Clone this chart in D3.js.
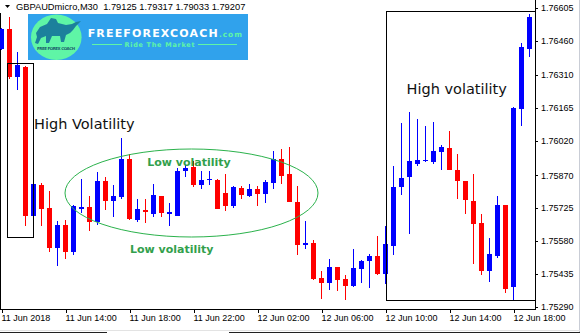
<!DOCTYPE html>
<html>
<head>
<meta charset="utf-8">
<script src="https://cdn.jsdelivr.net/npm/d3@7"></script>
<style>
  body { margin: 0; background: #fff; }
  svg { display: block; }
  .axis text { font-family: "Liberation Sans", Arial, sans-serif; font-size: 9px; fill: #000; }
  .axis line { stroke: #000; shape-rendering: crispEdges; }
</style>
</head>
<body>
<script>
// GBPAUDmicro M30 candles
const opens = [1.76423, 1.76513, 1.76300, 1.76347, 1.75692, 1.75827, 1.75725, 1.75551, 1.75651, 1.75533,
               1.75723, 1.75731, 1.75665, 1.75845, 1.75757, 1.75775, 1.75942, 1.75671, 1.75716, 1.75699,
               1.75778, 1.75700, 1.75692, 1.75889, 1.75907, 1.75827, 1.75850, 1.75850, 1.75791, 1.75735,
               1.75814, 1.75780, 1.75809, 1.75788, 1.75836, 1.75942, 1.75877, 1.75750, 1.75561, 1.75572,
               1.75416, 1.75397, 1.75464, 1.75413, 1.75383, 1.75459, 1.75494, 1.75513, 1.75436, 1.75560,
               1.75818, 1.75862, 1.75920, 1.75931, 1.75928, 1.75972, 1.75989, 1.75894, 1.75843, 1.75755,
               1.75659, 1.75450, 1.75516, 1.75737, 1.75379, 1.76162, 1.76426];
const highs = [1.76517, 1.76567, 1.76410, 1.76350, 1.75833, 1.75835, 1.75800, 1.75668, 1.75671, 1.75737,
               1.75854, 1.75778, 1.75884, 1.75860, 1.75827, 1.76033, 1.75963, 1.75765, 1.75765, 1.75831,
               1.75780, 1.75747, 1.75901, 1.75917, 1.75932, 1.75886, 1.75888, 1.75852, 1.75875, 1.75822,
               1.75824, 1.75831, 1.75822, 1.75849, 1.75976, 1.75984, 1.75992, 1.75821, 1.75667, 1.75583,
               1.75449, 1.75501, 1.75466, 1.75431, 1.75545, 1.75497, 1.75523, 1.75604, 1.75648, 1.75910,
               1.76101, 1.76149, 1.76116, 1.76087, 1.76104, 1.76003, 1.76064, 1.75963, 1.75845, 1.75875,
               1.75699, 1.75593, 1.75777, 1.75739, 1.76171, 1.76450, 1.76577];
const lows = [1.76420, 1.76294, 1.76244, 1.75645, 1.75690, 1.75648, 1.75531, 1.75472, 1.75503, 1.75518,
              1.75703, 1.75626, 1.75651, 1.75715, 1.75686, 1.75763, 1.75673, 1.75665, 1.75661, 1.75687,
              1.75688, 1.75646, 1.75690, 1.75861, 1.75816, 1.75811, 1.75827, 1.75721, 1.75713, 1.75727,
              1.75766, 1.75772, 1.75735, 1.75748, 1.75809, 1.75833, 1.75750, 1.75520, 1.75543, 1.75410,
              1.75327, 1.75365, 1.75362, 1.75322, 1.75378, 1.75397, 1.75374, 1.75432, 1.75391, 1.75520,
              1.75784, 1.75611, 1.75911, 1.75929, 1.75919, 1.75894, 1.75892, 1.75766, 1.75700, 1.75480,
              1.75431, 1.75399, 1.75506, 1.75352, 1.75320, 1.76087, 1.76391];
const closes = [1.76513, 1.76300, 1.76354, 1.75689, 1.75831, 1.75723, 1.75551, 1.75651, 1.75533, 1.75735,
                1.75731, 1.75665, 1.75845, 1.75757, 1.75778, 1.75942, 1.75675, 1.75721, 1.75708, 1.75782,
                1.75702, 1.75707, 1.75889, 1.75903, 1.75827, 1.75849, 1.75853, 1.75723, 1.75735, 1.75817,
                1.75783, 1.75809, 1.75788, 1.75840, 1.75941, 1.75868, 1.75752, 1.75564, 1.75572, 1.75413,
                1.75394, 1.75464, 1.75410, 1.75383, 1.75460, 1.75492, 1.75514, 1.75436, 1.75567, 1.75818,
                1.75857, 1.75933, 1.75938, 1.75938, 1.75976, 1.75995, 1.75894, 1.75843, 1.75762, 1.75656,
                1.75450, 1.75524, 1.75737, 1.75371, 1.76167, 1.76432, 1.76565];

const xTickIdx = [0, 8, 16, 24, 32, 40, 48, 56, 64];
const xLabels = ["11 Jun 2018", "11 Jun 14:00", "11 Jun 18:00", "11 Jun 22:00", "12 Jun 02:00",
                 "12 Jun 06:00", "12 Jun 10:00", "12 Jun 14:00", "12 Jun 18:00"];
const yTicks = [1.76605, 1.76460, 1.76310, 1.76165, 1.76020, 1.75870, 1.75725, 1.75580, 1.75435, 1.75290];

init();

function init() {
  let width = 582, height = 333;

  let svg = d3.select("body")
              .append("svg")
              .attr("width", width)
              .attr("height", height);

  let candles = opens.map((o, i) => ({i: i, o: o, h: highs[i], l: lows[i], c: closes[i]}));

  let x = d3.scaleLinear().domain([0, 66]).range([1.5, 529.5]);
  let y = d3.scaleLinear().domain([1.75290, 1.76605]).range([307, 8]);

  // window edges
  svg.append("line").attr("x1", 579.5).attr("x2", 579.5).attr("y1", 0).attr("y2", 333)
     .attr("stroke", "#c9cdd6");
  svg.append("line").attr("x1", 0).attr("x2", 580).attr("y1", 330.5).attr("y2", 330.5)
     .attr("stroke", "#e3e3e3");
  svg.append("line").attr("x1", 0).attr("x2", 107).attr("y1", 332.5).attr("y2", 332.5)
     .attr("stroke", "#222");
  svg.append("line").attr("x1", 229).attr("x2", 580).attr("y1", 332.5).attr("y2", 332.5)
     .attr("stroke", "#222");

  // frame
  let frame = svg.append("g").attr("stroke", "#000").attr("shape-rendering", "crispEdges");
  frame.append("line").attr("x1", 0.5).attr("x2", 0.5).attr("y1", 13).attr("y2", 309.5);
  frame.append("line").attr("x1", 0).attr("x2", 535.5).attr("y1", 309.5).attr("y2", 309.5);
  frame.append("line").attr("x1", 535.5).attr("x2", 535.5).attr("y1", 0).attr("y2", 309.5);

  // candles
  let g = svg.append("g").attr("shape-rendering", "crispEdges");
  let color = (d) => d.c >= d.o ? "#0000ff" : "#ff0000";

  g.selectAll(".wick")
   .data(candles)
   .enter()
   .append("line")
   .attr("class", "wick")
   .attr("x1", d => x(d.i))
   .attr("x2", d => x(d.i))
   .attr("y1", d => y(d.h))
   .attr("y2", d => y(d.l))
   .attr("stroke", color);

  g.selectAll(".body")
   .data(candles)
   .enter()
   .append("rect")
   .attr("class", "body")
   .attr("x", d => x(d.i) - 2.5)
   .attr("width", 5)
   .attr("y", d => y(Math.max(d.o, d.c)))
   .attr("height", d => Math.max(1, Math.abs(y(d.o) - y(d.c))))
   .attr("fill", color);

  // axes
  let yAxis = d3.axisRight(y)
                .tickValues(yTicks)
                .tickSize(3)
                .tickPadding(3)
                .tickFormat(d3.format(".5f"));
  svg.append("g")
     .attr("class", "axis")
     .attr("transform", "translate(535,0)")
     .call(yAxis)
     .call(a => a.select(".domain").remove());

  let xAxis = d3.axisBottom(x)
                .tickValues(xTickIdx)
                .tickSize(4)
                .tickFormat((d, i) => xLabels[i]);
  svg.append("g")
     .attr("class", "axis")
     .attr("transform", "translate(0,309)")
     .call(xAxis)
     .call(a => a.select(".domain").remove())
     .call(a => a.selectAll("text")
                 .attr("text-anchor", "start")
                 .attr("x", -0.5)
                 .attr("y", 12)
                 .attr("dy", 0));

  // header
  svg.append("path").attr("d", "M5,5 L10,5 L7.5,8 Z").attr("fill", "#000");
  svg.append("text")
     .attr("x", 16).attr("y", 10)
     .style("font-family", "'Liberation Sans', Arial, sans-serif")
     .style("font-size", "9.3px")
     .attr("xml:space", "preserve")
     .text("GBPAUDmicro,M30  1.79125 1.79317 1.79033 1.79207");

  // annotations
  let ann = svg.append("g");
  ann.append("rect")
     .attr("x", 7.5).attr("y", 63.5).attr("width", 26).attr("height", 174)
     .attr("fill", "none").attr("stroke", "#000").attr("shape-rendering", "crispEdges");
  ann.append("rect")
     .attr("x", 386.5).attr("y", 11.5).attr("width", 149).attr("height", 289)
     .attr("fill", "none").attr("stroke", "#000").attr("shape-rendering", "crispEdges");
  ann.append("ellipse")
     .attr("cx", 191.5).attr("cy", 193).attr("rx", 126.5).attr("ry", 44)
     .attr("fill", "none").attr("stroke", "#2bb24c").attr("stroke-width", 1);

  let hv = {"font-family": "'DejaVu Sans', Verdana, sans-serif", "font-size": "14.5px", "fill": "#111"};
  let t1 = ann.append("text").attr("x", 34).attr("y", 129.3).text("High Volatility");
  let t2 = ann.append("text").attr("x", 406.5).attr("y", 94.3).text("High volatility");
  [t1, t2].forEach(t => Object.entries(hv).forEach(([k, v]) => t.style(k, v)));

  let lv = {"font-family": "'DejaVu Sans', Verdana, sans-serif", "font-size": "11px",
            "font-weight": "bold", "fill": "#32a04c"};
  let t3 = ann.append("text").attr("x", 147.3).attr("y", 166).text("Low volatility");
  let t4 = ann.append("text").attr("x", 130).attr("y", 253).text("Low volatility");
  [t3, t4].forEach(t => Object.entries(lv).forEach(([k, v]) => t.style(k, v)));

  // logo
  let logo = svg.append("g");
  logo.append("rect").attr("x", 28).attr("y", 14).attr("width", 220).attr("height", 46)
      .attr("fill", "#30a2ec");
  logo.append("ellipse").attr("cx", 56.3).attr("cy", 37.3).attr("rx", 25.3).attr("ry", 22.7)
      .attr("fill", "#5ff5a6");
  logo.append("path")
      .attr("d", "M36,33 L40,27 L47,24 L51,18 L56,19 L58,23 L66,25 L72,24 L76,22 L81,21 L76,26 " +
                 "L73,30 L70,33 L66,35 L64,42 L61,42 L60,36 L52,36 L49,43 L46,43 L46,36 L41,38 " +
                 "L38,44 L35,43 L37,37 Z")
      .attr("fill", "#1c809c");
  logo.append("text").attr("x", 37).attr("y", 50).attr("textLength", 38)
      .style("font-family", "'DejaVu Sans', sans-serif").style("font-size", "4px")
      .style("font-weight", "bold").style("fill", "#1c5f6c")
      .text("FREE FOREX COACH");
  logo.append("text").attr("x", 87.7).attr("y", 37.3).attr("textLength", 130)
      .style("font-family", "'DejaVu Sans', sans-serif").style("font-size", "11px")
      .style("font-weight", "bold").style("fill", "#fff")
      .text("FREEFOREXCOACH");
  logo.append("text").attr("x", 219).attr("y", 37.3).attr("textLength", 23)
      .style("font-family", "'DejaVu Sans', sans-serif").style("font-size", "7.5px")
      .style("font-weight", "bold").style("fill", "#5ff5a6")
      .text(".com");
  logo.append("line").attr("x1", 92).attr("x2", 122).attr("y1", 44.5).attr("y2", 44.5)
      .attr("stroke", "#5ff5a6");
  logo.append("line").attr("x1", 198).attr("x2", 237).attr("y1", 44.5).attr("y2", 44.5)
      .attr("stroke", "#5ff5a6");
  logo.append("text").attr("x", 124.5).attr("y", 47).attr("textLength", 70)
      .style("font-family", "'DejaVu Sans', sans-serif").style("font-size", "6.5px")
      .style("font-weight", "bold").style("fill", "#5ff5a6")
      .text("Ride The Market");
}
</script>
</body>
</html>
